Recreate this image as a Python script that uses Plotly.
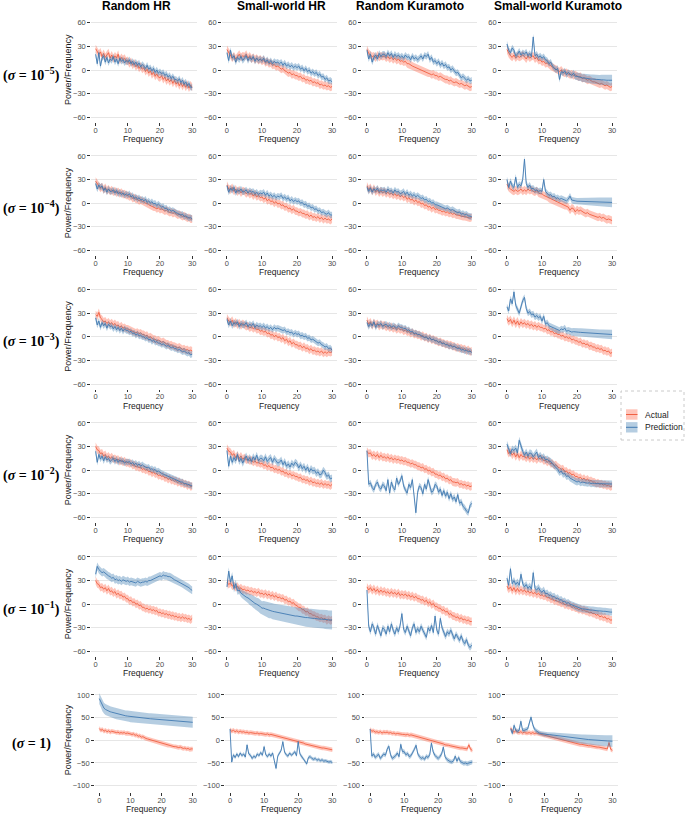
import plotly.graph_objects as go

# ---------------- data ----------------
FREQ = [i * 0.5 for i in range(61)]  # 0 .. 30 Hz, step 0.5
COLUMN_TITLES = ["Random HR", "Small-world HR", "Random Kuramoto", "Small-world Kuramoto"]
ROW_LABELS = ["(<i>σ</i> = 10<sup>−5</sup>)", "(<i>σ</i> = 10<sup>−4</sup>)", "(<i>σ</i> = 10<sup>−3</sup>)",
              "(<i>σ</i> = 10<sup>−2</sup>)", "(<i>σ</i> = 10<sup>−1</sup>)", "(<i>σ</i> = 1)"]
X_TICKS = [0, 10, 20, 30]
Y_TICKS_SMALL = [-60, -30, 0, 30, 60]
Y_TICKS_LARGE = [-100, -50, 0, 50, 100]
SERIES_NAMES = ["Actual", "Prediction"]

# ---- row 1 (sigma = 1e-5) ----
A_r1c1 = [27, 24, 20, 23, 17, 21, 16, 19, 22, 15,
          19, 14, 18, 15, 20, 12, 16, 13, 15, 11,
          12, 8, 11, 6, 9, 4, 7, 2, 5, 1,
          3, -2, 1, -4, -1, -6, -3, -8, -5, -9,
          -10, -7, -12, -9, -14, -11, -15, -12, -17, -13,
          -18, -15, -20, -16, -21, -17, -22, -18, -23, -19, -22]
P_r1c1 = [20, 8, 22, 5, 15, 18, 10, 16, 9, 14,
          12, 17, 10, 14, 8, 15, 11, 13, 9, 12,
          10, 13, 8, 11, 7, 10, 6, 9, 4, 7,
          5, 2, 6, 1, 3, -1, 2, -3, 0, -4,
          -2, -5, -3, -7, -5, -9, -7, -11, -8, -12,
          -12, -14, -11, -16, -13, -18, -15, -20, -17, -22, -22]
A_r1c2 = [26, 22, 19, 15, 18, 14, 17, 20, 16, 18,
          17, 20, 15, 18, 14, 16, 13, 15, 12, 14,
          11, 13, 9, 11, 8, 9, 6, 7, 4, 5,
          3, 1, 2, -1, -2, -4, -3, -6, -5, -7,
          -7, -9, -8, -11, -10, -13, -12, -14, -13, -16,
          -15, -17, -16, -19, -18, -20, -19, -21, -20, -22, -21]
P_r1c2 = [22, 12, 25, 15, 18, 10, 16, 13, 17, 12,
          15, 18, 12, 16, 13, 17, 11, 15, 12, 14,
          12, 15, 10, 13, 9, 12, 8, 11, 9, 10,
          8, 10, 6, 9, 5, 7, 4, 6, 3, 5,
          3, 5, 1, 3, -1, 2, -2, 0, -4, -2,
          -5, -3, -7, -5, -9, -8, -12, -10, -14, -13, -15]
A_r1c3 = [26, 21, 19, 17, 18, 15, 19, 16, 18, 17,
          18, 15, 17, 14, 16, 13, 15, 12, 14, 11,
          12, 10, 11, 8, 8, 6, 5, 4, 3, 2,
          1, 0, -1, -2, -3, -4, -4, -6, -5, -7,
          -7, -9, -8, -10, -11, -12, -12, -14, -13, -15,
          -16, -15, -17, -18, -17, -19, -20, -19, -21, -22, -21]
P_r1c3 = [25, 14, 20, 10, 16, 19, 14, 21, 17, 20,
          20, 17, 22, 18, 21, 16, 20, 17, 19, 16,
          18, 15, 19, 16, 17, 13, 18, 14, 16, 13,
          15, 18, 14, 19, 17, 20, 13, 16, 10, 12,
          8, 11, 6, 9, 5, 7, 3, 4, 0, 2,
          -1, -4, -3, -7, -10, -8, -11, -13, -11, -14, -13]
A_r1c4 = [26, 21, 18, 16, 19, 15, 18, 16, 17, 19,
          17, 14, 18, 15, 17, 18, 14, 16, 12, 13,
          10, 11, 8, 9, 7, 5, 4, 2, 1, 0,
          -2, 0, -3, -4, -3, -5, -6, -5, -7, -6,
          -8, -9, -8, -11, -10, -12, -13, -12, -14, -15,
          -15, -16, -17, -18, -17, -19, -20, -19, -21, -22, -21]
P_r1c4 = [33, 25, 22, 28, 25, 18, 20, 24, 19, 22,
          20, 23, 18, 21, 17, 42, 18, 20, 16, 18,
          15, 17, 13, 12, 8, 10, 5, 3, 0, 2,
          -12, -2, -4, -1, -6, -3, -5, -7, -4, -8,
          -8, -9, -9, -10, -10, -10.5, -11, -11, -11.5, -11.5,
          -12, -12, -12, -12.5, -12.5, -12.5, -13, -13, -13, -13, -13]

# ---- row 2 (sigma = 1e-4) ----
A_r2c1 = [28, 24, 22, 19, 21, 17, 20, 16, 18, 15,
          17, 14, 16, 13, 15, 12, 14, 11, 12, 10,
          10, 8, 9, 6, 7, 5, 5, 3, 4, 2,
          2, 0, 0, -2, -3, -4, -5, -5, -7, -6,
          -8, -7, -9, -10, -9, -11, -12, -11, -13, -12,
          -13, -15, -14, -16, -17, -16, -18, -19, -18, -20, -20]
P_r2c1 = [25, 18, 23, 20, 22, 16, 19, 14, 18, 15,
          15, 17, 13, 16, 12, 14, 11, 13, 10, 12,
          10, 12, 8, 10, 6, 8, 5, 7, 4, 5,
          3, 5, 1, 3, 0, 2, -1, 0, -3, -1,
          -3, -5, -4, -7, -6, -9, -8, -10, -9, -11,
          -12, -13, -14, -15, -14, -17, -16, -18, -19, -18, -20]
A_r2c2 = [23, 18, 17, 20, 15, 18, 14, 17, 13, 16,
          15, 12, 14, 11, 13, 9, 12, 8, 10, 7,
          8, 5, 7, 3, 5, 2, 3, 0, 2, -1,
          0, -3, -2, -5, -4, -7, -6, -9, -7, -10,
          -10, -12, -11, -13, -13, -15, -14, -17, -15, -18,
          -17, -19, -17, -20, -18, -21, -19, -21, -20, -22, -20]
P_r2c2 = [22, 14, 19, 16, 20, 13, 17, 15, 18, 14,
          15, 17, 13, 16, 14, 15, 12, 14, 11, 13,
          12, 14, 10, 13, 9, 11, 8, 10, 7, 9,
          8, 10, 6, 8, 5, 7, 3, 5, 2, 4,
          2, 3, 0, 1, -2, -1, -4, -3, -6, -5,
          -8, -7, -10, -9, -12, -11, -13, -14, -12, -15, -15]
A_r2c3 = [22, 17, 20, 15, 19, 14, 17, 13, 16, 13,
          15, 12, 14, 11, 13, 10, 12, 9, 11, 8,
          10, 7, 9, 5, 7, 4, 5, 2, 4, 1,
          2, -1, 0, -3, -2, -5, -4, -7, -5, -8,
          -7, -9, -9, -11, -10, -12, -11, -13, -12, -14,
          -13, -15, -15, -16, -16, -17, -17, -18, -18, -19, -18]
P_r2c3 = [20, 15, 19, 14, 18, 16, 19, 15, 17, 16,
          17, 14, 18, 15, 16, 13, 17, 14, 15, 12,
          13, 15, 11, 14, 10, 12, 9, 11, 8, 10,
          8, 6, 7, 4, 5, 2, 3, 0, 1, -2,
          -2, -3, -4, -5, -5, -7, -6, -8, -9, -8,
          -10, -11, -12, -11, -14, -13, -15, -14, -16, -17, -17]
A_r2c4 = [24, 20, 18, 16, 15, 17, 15, 16, 18, 15,
          17, 15, 18, 16, 17, 15, 14, 16, 13, 12,
          12, 10, 9, 8, 6, 5, 4, 3, 2, 1,
          0, -1, -2, -3, -3, -5, -9, -6, -7, -11,
          -8, -10, -9, -11, -12, -13, -12, -14, -15, -16,
          -16, -17, -18, -17, -19, -18, -20, -21, -20, -21, -22]
P_r2c4 = [30, 20, 28, 22, 20, 33, 20, 24, 22, 30,
          56, 25, 20, 23, 18, 19, 16, 17, 15, 16,
          15, 30, 15, 12, 10, 11, 8, 9, 6, 7,
          5, 6, 5, 4, 3, 5, 9, 4, 3, 3,
          2.5, 2.4, 2.3, 2.2, 2.1, 2.0, 1.9, 1.8, 1.7, 1.6,
          1.5, 1.5, 1.4, 1.4, 1.3, 1.3, 1.2, 1.2, 1.1, 1.1, 1.0]

# ---- row 3 (sigma = 1e-3) ----
A_r3c1 = [28, 26, 31, 24, 22, 19, 20, 17, 19, 16,
          18, 15, 17, 14, 15, 12, 14, 11, 12, 10,
          10, 9, 9, 7, 7, 5, 6, 4, 5, 3,
          3, 1, 2, -1, 0, -2, -3, -3, -5, -4,
          -5, -7, -6, -8, -9, -9, -11, -10, -12, -12,
          -13, -14, -13, -15, -16, -15, -17, -16, -18, -17, -18]
P_r3c1 = [24, 15, 20, 12, 18, 14, 17, 11, 16, 13,
          14, 10, 13, 9, 12, 8, 11, 7, 10, 8,
          8, 6, 7, 4, 5, 2, 4, 1, 2, 0,
          0, -2, -1, -4, -3, -6, -4, -7, -6, -8,
          -8, -10, -9, -11, -12, -11, -13, -14, -13, -15,
          -15, -17, -16, -18, -19, -18, -20, -21, -20, -23, -22]
A_r3c2 = [24, 20, 18, 21, 16, 19, 15, 18, 14, 17,
          15, 13, 14, 11, 13, 10, 12, 9, 10, 7,
          8, 6, 7, 4, 5, 2, 3, 0, 2, -1,
          0, -3, -1, -5, -3, -7, -5, -9, -7, -10,
          -10, -12, -11, -14, -12, -15, -14, -17, -15, -18,
          -17, -19, -18, -20, -18, -21, -19, -21, -19, -20, -19]
P_r3c2 = [22, 15, 20, 14, 18, 16, 19, 13, 17, 15,
          15, 18, 13, 16, 14, 17, 12, 15, 13, 14,
          12, 14, 11, 13, 10, 12, 9, 12, 10, 11,
          10, 9, 8, 9, 6, 7, 5, 6, 3, 5,
          3, 4, 1, 2, 0, 1, -2, -1, -4, -3,
          -5, -6, -8, -7, -10, -11, -13, -12, -15, -14, -17]
A_r3c3 = [21, 16, 19, 14, 18, 15, 17, 13, 16, 14,
          15, 12, 14, 11, 13, 10, 12, 9, 11, 9,
          10, 7, 9, 6, 7, 4, 6, 3, 4, 2,
          3, 0, 2, -1, 0, -3, -1, -4, -3, -5,
          -5, -7, -6, -8, -8, -10, -9, -11, -10, -12,
          -12, -14, -13, -15, -14, -16, -15, -18, -16, -19, -18]
P_r3c3 = [18, 13, 17, 14, 19, 12, 16, 15, 17, 13,
          15, 16, 13, 15, 12, 14, 13, 11, 14, 12,
          12, 10, 11, 8, 9, 6, 7, 4, 5, 3,
          3, 2, 1, -1, 0, -3, -1, -4, -3, -5,
          -5, -7, -6, -9, -8, -10, -10, -12, -11, -13,
          -12, -14, -15, -14, -17, -16, -18, -17, -19, -18, -20]
A_r3c4 = [23, 19, 22, 17, 21, 16, 20, 15, 19, 16,
          18, 15, 17, 14, 16, 13, 15, 12, 14, 12,
          12, 10, 11, 8, 9, 6, 7, 4, 5, 3,
          3, 1, 2, -1, 0, -2, -1, -4, -3, -5,
          -5, -7, -6, -9, -8, -10, -9, -12, -11, -13,
          -13, -15, -14, -16, -15, -18, -17, -19, -18, -21, -20]
P_r3c4 = [38, 33, 48, 42, 57, 40, 35, 30, 38, 46,
          50, 36, 30, 32, 28, 29, 25, 27, 24, 26,
          20, 26, 16, 18, 14, 13, 11, 10, 9, 8,
          8, 10, 9, 11, 7, 8, 7, 6, 6.5, 6,
          6, 5.8, 5.6, 5.4, 5.2, 5.0, 4.8, 4.6, 4.5, 4.3,
          4.2, 4.1, 4.0, 3.8, 3.7, 3.6, 3.4, 3.3, 3.2, 3.1, 3.0]

# ---- row 4 (sigma = 1e-2) ----
A_r4c1 = [30, 26, 25, 21, 22, 18, 20, 16, 18, 15,
          17, 14, 15, 13, 14, 11, 13, 10, 12, 9,
          10, 8, 9, 6, 7, 4, 5, 3, 4, 1,
          2, 0, 1, -2, -1, -4, -2, -5, -4, -7,
          -6, -8, -7, -10, -9, -12, -10, -13, -12, -14,
          -13, -16, -14, -17, -16, -18, -17, -20, -18, -21, -20]
P_r4c1 = [24, 10, 20, 14, 18, 12, 17, 13, 15, 11,
          13, 15, 11, 14, 10, 13, 11, 12, 9, 11,
          10, 11, 8, 10, 7, 9, 6, 8, 5, 7,
          5, 4, 3, 4, 1, 2, 0, 1, -2, -1,
          -3, -4, -5, -6, -7, -8, -8, -10, -10, -11,
          -12, -13, -14, -15, -15, -17, -17, -18, -19, -19, -20]
A_r4c2 = [28, 24, 23, 19, 21, 16, 19, 15, 18, 14,
          16, 13, 14, 12, 13, 10, 12, 9, 10, 8,
          9, 6, 7, 4, 6, 3, 4, 1, 2, 0,
          1, -2, -1, -4, -3, -6, -4, -7, -6, -8,
          -8, -10, -9, -12, -11, -13, -12, -15, -13, -16,
          -15, -17, -16, -18, -16, -19, -17, -19, -18, -20, -18]
P_r4c2 = [25, 5, 18, 10, 16, 12, 20, 11, 15, 9,
          14, 18, 12, 16, 11, 17, 13, 19, 12, 15,
          15, 12, 17, 11, 14, 16, 10, 15, 12, 9,
          10, 13, 7, 11, 5, 8, 4, 9, 6, 10,
          8, 3, 7, 2, 5, 0, 4, -2, 2, -1,
          0, -4, -2, -6, -5, 0, -3, -8, -6, -11, -10]
A_r4c3 = [24, 21, 22, 18, 20, 17, 20, 16, 19, 16,
          17, 15, 17, 14, 16, 13, 15, 13, 14, 12,
          13, 11, 12, 10, 10, 8, 9, 7, 7, 5,
          5, 3, 4, 1, 2, -1, 0, -3, -2, -5,
          -5, -7, -6, -9, -8, -11, -10, -13, -12, -15,
          -15, -16, -15, -18, -17, -19, -18, -20, -19, -21, -20]
P_r4c3 = [25, -18, -16, -22, -25, -18, -15, -22, -24, -18,
          -20, -26, -12, -29, -15, -22, -25, -10, -18, -14,
          -7, -20, -25, -29, -18, -22, -12, -30, -54, -28,
          -20, -22, -30, -18, -24, -12, -22, -28, -26, -18,
          -20, -28, -24, -32, -26, -33, -28, -36, -30, -37,
          -34, -40, -31, -42, -40, -46, -48, -52, -54, -45, -42]
A_r4c4 = [26, 21, 24, 19, 22, 17, 21, 16, 20, 17,
          18, 15, 18, 14, 17, 14, 16, 13, 16, 14,
          15, 12, 13, 10, 12, 8, 9, 6, 7, 4,
          3, 1, 2, -2, -1, -4, -3, -6, -5, -8,
          -8, -10, -9, -12, -10, -13, -11, -14, -13, -15,
          -15, -17, -16, -18, -17, -19, -18, -20, -19, -21, -20]
P_r4c4 = [33, 26, 21, 27, 25, 28, 22, 38, 30, 24,
          19, 23, 18, 22, 21, 17, 20, 23, 16, 19,
          15, 17, 13, 14, 12, 11, 8, 6, 4, 1,
          -3, -1, -5, -4, -8, -7, -10, -11, -12, -14,
          -15, -14, -16, -15, -16, -16, -16.5, -16, -17, -16.5,
          -17, -17, -17, -17, -17.5, -17, -17.5, -17.5, -17.5, -17.5, -17.5]

# ---- row 5 (sigma = 1e-1) ----
A_r5c1 = [30, 26, 25, 21, 22, 19, 21, 17, 20, 16,
          17, 14, 16, 12, 14, 11, 12, 9, 10, 7,
          7, 4, 5, 2, 3, 0, 1, -2, -1, -4,
          -4, -6, -5, -7, -6, -8, -7, -9, -8, -11,
          -10, -12, -11, -13, -12, -14, -13, -15, -14, -16,
          -15, -17, -16, -18, -16, -18, -17, -19, -18, -20, -18]
P_r5c1 = [38, 48, 44, 42, 40, 41, 39, 37, 36, 35,
          33, 34, 31, 32, 30, 31, 29, 31, 30, 29,
          30, 28, 29, 28, 28, 27, 29, 28, 27, 28,
          28, 29, 28, 30, 30, 31, 32, 33, 34, 35,
          36, 35, 37, 36, 36, 35, 35, 34, 32, 31,
          30, 29, 28, 27, 26, 25, 24, 22, 21, 19, 17.5]
A_r5c2 = [28, 25, 27, 23, 24, 21, 23, 19, 21, 18,
          19, 17, 18, 16, 17, 15, 16, 14, 16, 13,
          14, 12, 14, 11, 13, 10, 12, 9, 11, 8,
          9, 7, 8, 5, 6, 3, 4, 1, 2, -1,
          -2, -4, -4, -7, -7, -10, -9, -12, -12, -14,
          -14, -16, -16, -18, -17, -19, -18, -21, -19, -21, -20]
P_r5c2 = [22, 42, 28, 36, 20, 26, 17, 18, 14, 12,
          11, 9, 8, 6, 5, 3, 1, 0, -1, -3,
          -5, -5, -6, -7, -8, -8, -9, -9.5, -10, -10.5,
          -11, -11.5, -12, -12.5, -13, -13, -13.5, -14, -14.5, -15,
          -15, -15.5, -16, -16, -16.5, -17, -17, -17.5, -17.5, -18,
          -18, -18.5, -18.5, -19, -19, -19, -19.5, -19.5, -20, -20, -20]
A_r5c3 = [22, 18, 21, 17, 20, 16, 19, 15, 18, 15,
          17, 14, 16, 13, 16, 13, 15, 12, 15, 11,
          13, 11, 13, 10, 12, 9, 11, 8, 10, 7,
          7, 5, 6, 3, 5, 1, 3, -1, 1, -3,
          -3, -5, -5, -8, -7, -10, -9, -13, -12, -15,
          -15, -17, -16, -19, -17, -20, -19, -21, -20, -22, -22]
P_r5c3 = [18, -28, -35, -25, -30, -38, -27, -33, -40, -30,
          -32, -38, -28, -35, -25, -33, -38, -30, -35, -27,
          -12, -32, -36, -28, -33, -40, -30, -25, -36, -31,
          -35, -28, -33, -38, -42, -30, -34, -27, -36, -15,
          -33, -38, -18, -30, -36, -41, -35, -38, -33, -40,
          -44, -38, -42, -46, -40, -47, -50, -45, -52, -55, -52]
A_r5c4 = [23, 19, 22, 17, 21, 16, 20, 16, 19, 16,
          18, 15, 17, 14, 16, 13, 15, 12, 14, 11,
          12, 10, 11, 8, 9, 6, 7, 4, 5, 3,
          3, 1, 2, -1, 0, -2, -1, -4, -3, -5,
          -5, -7, -6, -8, -7, -9, -9, -11, -10, -12,
          -12, -14, -13, -16, -15, -17, -16, -19, -18, -20, -20]
P_r5c4 = [33, 24, 45, 26, 30, 25, 28, 24, 38, 26,
          22, 25, 20, 23, 19, 40, 20, 18, 21, 17,
          15, 18, 13, 14, 11, 12, 9, 10, 7, 8,
          5, 6, 3, 4, 1, 2, 0, -1, -2, -3,
          -4, -5, -5, -6, -6, -6.5, -7, -7, -7.5, -7.5,
          -8, -8, -8.5, -8.5, -9, -9, -9, -9.5, -9.5, -10, -10]

# ---- row 6 (sigma = 1) ----
A_r6c1 = [26, 22, 24, 20, 22, 19, 21, 18, 20, 19,
          19, 17, 18, 16, 17, 16, 17, 15, 16, 15,
          15, 13, 14, 11, 12, 9, 10, 7, 8, 5,
          4, 3, 2, 0, -1, -2, -3, -4, -5, -6,
          -7, -8, -9, -10, -11, -11, -12, -13, -14, -14,
          -15, -16, -15, -17, -18, -17, -19, -18, -20, -19, -19]
P_r6c1 = [92, 85, 76, 71, 68, 66, 64, 63, 62, 61,
          59.5, 58.5, 57.5, 56.5, 56, 55, 54.5, 54, 53.5, 53,
          52, 51.6, 51.2, 50.8, 50.4, 50, 49.6, 49.3, 49, 48.7,
          48.4, 48.1, 47.8, 47.5, 47.2, 46.9, 46.6, 46.3, 46, 45.5,
          45, 44.7, 44.4, 44.1, 43.8, 43.5, 43.2, 42.9, 42.6, 42.3,
          42, 41.8, 41.6, 41.4, 41.2, 41, 40.8, 40.5, 40.2, 40, 39.7]
A_r6c2 = [23, 20, 22, 19, 21, 18, 20, 18, 19, 17,
          18, 16, 17, 16, 16, 15, 16, 14, 15, 14,
          14, 13, 14, 12, 13, 12, 12, 10, 10, 9,
          8, 7, 6, 5, 4, 3, 2, 1, 0, -1,
          -3, -4, -5, -6, -8, -9, -10, -11, -12, -13,
          -13, -14, -15, -16, -17, -17, -18, -19, -20, -20, -21]
P_r6c2 = [25, -48, -32, -38, -30, -36, -28, -34, -30, -37,
          -10, -30, -33, -40, -35, -38, -30, -34, -27, -33,
          -14, -32, -36, -30, -35, -28, -45, -62, -35, -28,
          -22, -3, -26, -32, -35, -28, -33, -30, -25, -34,
          -3, -30, -36, -40, -45, -52, -38, -36, -40, -42,
          -40, -44, -42, -45, -43, -46, -45, -47, -48, -47, -49]
A_r6c3 = [24, 20, 21, 18, 19, 17, 19, 16, 18, 17,
          18, 16, 17, 15, 16, 14, 15, 14, 14, 13,
          13, 12, 13, 11, 12, 11, 10, 9, 8, 7,
          6, 5, 4, 3, 2, 1, 0, -1, -2, -4,
          -5, -6, -7, -8, -10, -10, -11, -12, -13, -14,
          -15, -15, -16, -17, -17, -18, -18, -19, -10, -20, -22]
P_r6c3 = [25, -35, -30, -38, -34, -31, -40, -36, -30, -33,
          -20, -13, -32, -40, -37, -34, -28, -36, -9, -25,
          -25, -32, -29, -36, -34, -28, -20, -11, -30, -36,
          -40, -38, -42, -35, -38, -32, -6, -25, -33, -37,
          -40, -36, -30, -15, -36, -42, -45, -47, -48, -45,
          -35, -46, -38, -47, -49, -51, -50, -52, -50, -49, -48]
A_r6c4 = [27, 20, 18, 21, 18, 17, 19, 16, 18, 16,
          16, 17, 15, 17, 15, 16, 15, 14, 14, 13,
          11, 10, 10, 9, 8, 7, 6, 5, 4, 3,
          1, 0, -1, -2, -3, -4, -5, -5, -6, -7,
          -8, -9, -9, -10, -11, -11, -12, -12, -13, -13,
          -14, -15, -15, -16, -17, -17, -18, -19, -5, -20, -22]
P_r6c4 = [25, 15, 33, 22, 20, 22, 42, 22, 22, 24,
          25, 38, 51, 35, 25, 21, 18, 16, 15, 14,
          13, 13, 12.5, 12.5, 12, 11.5, 11, 10.5, 10, 9,
          8, 7.5, 7, 6.5, 6, 5.5, 5, 4.5, 4, 3.5,
          3, 2.8, 2.6, 2.4, 2.2, 2, 1.6, 1.2, 0.8, 0.4,
          0, -0.2, -0.4, -0.6, -0.8, -1, -1.2, -1.4, -1.6, -1.8, -2]

# ribbon half-widths (uncertainty bands)
BAND_ACTUAL = 5
BAND_PRED = 4
WP_r1c4 = [4] * 36 + [4, 4.2, 4.4, 4.6, 4.8, 5, 5.1, 5.2, 5.3, 5.4, 5.5, 5.6, 5.7,
                      5.8, 6, 6.1, 6.2, 6.3, 6.4, 6.5, 6.6, 6.7, 6.8, 6.9, 7]
WP_r2c4 = [4] * 40 + [4.2, 4.4, 4.6, 4.7, 4.8, 4.9, 5.0, 5.1, 5.2, 5.3, 5.4, 5.5,
                      5.6, 5.7, 5.8, 5.9, 6.0, 6.0, 6.1, 6.1, 6.2]
WP_r3c4 = [4] * 30 + [4, 4.1, 4.2, 4.3, 4.4, 4.5, 4.6, 4.7, 4.8, 4.9, 5.0, 5.0, 5.1,
                      5.1, 5.2, 5.2, 5.3, 5.3, 5.4, 5.4, 5.5, 5.5, 5.6, 5.6, 5.7,
                      5.7, 5.8, 5.8, 5.9, 5.9, 6.0]
WP_r5c2 = [5] * 10 + [5.5, 6, 6.5, 7, 7.3, 7.6, 7.9, 8.2, 8.5, 8.7,
                      8.9, 9.1, 9.3, 9.5, 9.7, 9.9, 10.1, 10.2, 10.3, 10.4,
                      10.5, 10.6, 10.7, 10.8, 10.9, 11, 11, 11.1, 11.1, 11.2,
                      11.2, 11.3, 11.3, 11.4, 11.4, 11.5, 11.5, 11.6, 11.6, 11.7,
                      11.7, 11.8, 11.8, 11.9, 11.9, 12, 12, 12, 12, 12, 12]
WP_r6c4 = [5] * 20 + [5, 5.2, 5.4, 5.6, 5.8, 6, 6.2, 6.4, 6.6, 6.8,
                      7, 7.3, 7.6, 7.9, 8.2, 8.5, 8.8, 9.1, 9.4, 9.7,
                      10, 10.2, 10.4, 10.6, 10.8, 11, 11.2, 11.4, 11.6, 11.8,
                      12, 12.1, 12.2, 12.3, 12.4, 12.5, 12.6, 12.7, 12.8, 12.9, 13]

PANELS = [
    [(A_r1c1, P_r1c1, BAND_ACTUAL, BAND_PRED), (A_r1c2, P_r1c2, BAND_ACTUAL, BAND_PRED),
     (A_r1c3, P_r1c3, BAND_ACTUAL, BAND_PRED), (A_r1c4, P_r1c4, BAND_ACTUAL, WP_r1c4)],
    [(A_r2c1, P_r2c1, BAND_ACTUAL, BAND_PRED), (A_r2c2, P_r2c2, BAND_ACTUAL, BAND_PRED),
     (A_r2c3, P_r2c3, BAND_ACTUAL, BAND_PRED), (A_r2c4, P_r2c4, BAND_ACTUAL, WP_r2c4)],
    [(A_r3c1, P_r3c1, BAND_ACTUAL, BAND_PRED), (A_r3c2, P_r3c2, BAND_ACTUAL, BAND_PRED),
     (A_r3c3, P_r3c3, BAND_ACTUAL, BAND_PRED), (A_r3c4, P_r3c4, BAND_ACTUAL, WP_r3c4)],
    [(A_r4c1, P_r4c1, BAND_ACTUAL, BAND_PRED), (A_r4c2, P_r4c2, BAND_ACTUAL, 4.5),
     (A_r4c3, P_r4c3, BAND_ACTUAL, BAND_PRED), (A_r4c4, P_r4c4, BAND_ACTUAL, 4.5)],
    [(A_r5c1, P_r5c1, BAND_ACTUAL, 5), (A_r5c2, P_r5c2, BAND_ACTUAL, WP_r5c2),
     (A_r5c3, P_r5c3, BAND_ACTUAL, BAND_PRED), (A_r5c4, P_r5c4, BAND_ACTUAL, 4.5)],
    [(A_r6c1, P_r6c1, BAND_ACTUAL, 12), (A_r6c2, P_r6c2, BAND_ACTUAL, BAND_PRED),
     (A_r6c3, P_r6c3, BAND_ACTUAL, 5), (A_r6c4, P_r6c4, BAND_ACTUAL, WP_r6c4)],
]

# ---------------- styling / layout ----------------
W, H = 685, 818
RED_LINE = "rgb(240,96,66)"
RED_FILL = "rgba(255,99,71,0.38)"
BLUE_LINE = "rgb(66,122,178)"
BLUE_FILL = "rgba(70,130,180,0.40)"
FONT = "Liberation Sans, Arial, sans-serif"
SERIF = "Liberation Serif, Times New Roman, serif"

# plot-area pixel boxes
X_BOX = [(90.8, 197.0), (221.7, 337.3), (361.7, 477.0), (501.7, 617.3)]
X_BOX_LAST = [(94.6, 197.4), (224.9, 337.4), (365.0, 477.4), (505.6, 617.5)]
Y_BOX = [(18, 122), (151.2, 255.2), (284.8, 388.8), (418.2, 522.2), (552.2, 656.2), (688.3, 792.3)]


def fx(px):
    return px / W


def fy(py):
    return 1 - py / H


def widths(w):
    return w if isinstance(w, list) else [w] * len(FREQ)


fig = go.Figure()
layout = dict(width=W, height=H, margin=dict(l=0, r=0, t=0, b=0),
              paper_bgcolor="white", plot_bgcolor="white", showlegend=False,
              font=dict(family=FONT))
annotations = []
shapes = []

for r, row in enumerate(PANELS):
    for c, (act, pred, wa, wp) in enumerate(row):
        k = r * 4 + c + 1
        xa = "x" if k == 1 else f"x{k}"
        ya = "y" if k == 1 else f"y{k}"
        assert len(act) == 61 and len(pred) == 61, (r, c, len(act), len(pred))
        for vals, w, fill, col in ((act, wa, RED_FILL, RED_LINE), (pred, wp, BLUE_FILL, BLUE_LINE)):
            ww = widths(w)
            upper = [v + d for v, d in zip(vals, ww)]
            lower = [v - d for v, d in zip(vals, ww)]
            fig.add_trace(go.Scatter(x=FREQ + FREQ[::-1], y=upper + lower[::-1], fill="toself",
                                     fillcolor=fill, line=dict(width=0), mode="lines",
                                     hoverinfo="skip", xaxis=xa, yaxis=ya))
            fig.add_trace(go.Scatter(x=FREQ, y=vals, mode="lines", line=dict(color=col, width=0.9),
                                     hoverinfo="skip", xaxis=xa, yaxis=ya))
        xb = X_BOX_LAST[c] if r == 5 else X_BOX[c]
        yb = Y_BOX[r]
        yt = Y_TICKS_LARGE if r == 5 else Y_TICKS_SMALL
        yr = [-114.7, 114.7] if r == 5 else [-66, 66]
        layout["xaxis" if k == 1 else f"xaxis{k}"] = dict(
            domain=[fx(xb[0]), fx(xb[1])], anchor=ya, range=[-1.5, 31.5],
            tickvals=X_TICKS, ticks="outside", ticklen=2.5, tickwidth=0.8, tickcolor="#333333",
            ticklabelstandoff=-2,
            tickfont=dict(size=7.5, color="#4D4D4D", family=FONT),
            showgrid=False, zeroline=False, showline=False, fixedrange=True)
        layout["yaxis" if k == 1 else f"yaxis{k}"] = dict(
            domain=[fy(yb[1]), fy(yb[0])], anchor=xa, range=yr,
            tickvals=yt, ticks="outside", ticklen=2.5, tickwidth=0.8, tickcolor="#333333",
            tickfont=dict(size=7.5, color="#4D4D4D", family=FONT),
            showgrid=True, gridcolor="#E6E6E6", gridwidth=1, zeroline=False, showline=False,
            fixedrange=True)
        # x-axis title
        annotations.append(dict(text="Frequency", x=fx((xb[0] + xb[1]) / 2), y=fy(yb[1] + 16.8),
                                xref="paper", yref="paper", showarrow=False, xanchor="center",
                                yanchor="middle", font=dict(size=8.5, color="#1A1A1A", family=FONT)))
        if c == 0:
            annotations.append(dict(text="Power/Frequency", x=fx(68), y=fy((yb[0] + yb[1]) / 2),
                                    xref="paper", yref="paper", showarrow=False, textangle=-90,
                                    xanchor="center", yanchor="middle",
                                    font=dict(size=9, color="#1A1A1A", family=FONT)))
    # row label
    yb = Y_BOX[r]
    annotations.append(dict(text=f"<b>{ROW_LABELS[r]}</b>", x=fx(31), y=fy((yb[0] + yb[1]) / 2 + 4),
                            xref="paper", yref="paper", showarrow=False, xanchor="center",
                            yanchor="middle", font=dict(size=14, color="black", family=SERIF)))

# column titles
for c, (title, cx) in enumerate(zip(COLUMN_TITLES, [136, 281, 410, 558])):
    annotations.append(dict(text=f"<b>{title}</b>", x=fx(cx), y=fy(6), xref="paper", yref="paper",
                            showarrow=False, xanchor="center", yanchor="middle",
                            font=dict(size=12, color="black", family=FONT)))

# legend (drawn manually)
shapes.append(dict(type="rect", xref="paper", yref="paper", x0=fx(621), x1=fx(684), y0=fy(440), y1=fy(391),
                   line=dict(color="#BDBDBD", width=0.8, dash="dot"), fillcolor="rgba(0,0,0,0)"))
for name, fill, col, cy in ((SERIES_NAMES[0], RED_FILL, RED_LINE, 414.5),
                            (SERIES_NAMES[1], BLUE_FILL, BLUE_LINE, 427.3)):
    shapes.append(dict(type="rect", xref="paper", yref="paper", x0=fx(626), x1=fx(637.5),
                       y0=fy(cy + 5.2), y1=fy(cy - 5.2), line=dict(width=0), fillcolor=fill))
    shapes.append(dict(type="line", xref="paper", yref="paper", x0=fx(626), x1=fx(637.5),
                       y0=fy(cy), y1=fy(cy), line=dict(color=col, width=1)))
    annotations.append(dict(text=name, x=fx(642.5), y=fy(cy), xref="paper", yref="paper",
                            showarrow=False, xanchor="left", yanchor="middle",
                            font=dict(size=8.5, color="#1A1A1A", family=FONT)))

layout["annotations"] = annotations
layout["shapes"] = shapes
fig.update_layout(**layout)

fig.write_html("out.html", config={"displayModeBar": False},
               post_script="document.body.style.margin='0';document.body.style.overflow='hidden';")
